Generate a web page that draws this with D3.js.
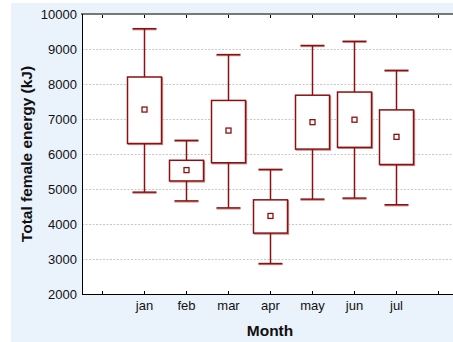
<!DOCTYPE html>
<html>
<head>
<meta charset="utf-8">
<script src="https://cdn.jsdelivr.net/npm/d3@7"></script>
<style>
  html, body { margin: 0; padding: 0; background: #fff; }
  svg { display: block; }
  text { font-family: "Liberation Sans", Arial, sans-serif; }
</style>
</head>
<body>
<svg id="chart" width="453" height="342"></svg>
<script>
const months = ["jan", "feb", "mar", "apr", "may", "jun", "jul"];
const whiskerHigh = [9580, 6390, 8840, 5560, 9100, 9220, 8390];
const q3 = [8200, 5820, 7530, 4690, 7680, 7770, 7260];
const means = [7270, 5540, 6670, 4230, 6910, 6980, 6490];
const q1 = [6300, 5230, 5750, 3740, 6140, 6190, 5700];
const whiskerLow = [4910, 4660, 4460, 2870, 4710, 4740, 4550];
const yTicks = [2000, 3000, 4000, 5000, 6000, 7000, 8000, 9000, 10000];
const xTickPositions = [0, 1, 2, 3, 4, 5, 6, 7, 8];

(function () {
const svg = d3.select("#chart");
const W = 453, H = 342;
const pL = 82, pR = 458, pT = 14, pB = 294;
const red = "#8b1010", shadow = "#c98a8a";

svg.append("rect").attr("x", 11).attr("y", 3).attr("width", W - 11).attr("height", H - 3).attr("fill", "#eaf2fc");
svg.append("rect").attr("x", pL).attr("y", pT).attr("width", pR - pL).attr("height", pB - pT).attr("fill", "#fff");

const x = d3.scaleLinear().domain([-0.476, 8.476]).range([pL, pR]);
const y = d3.scaleLinear().domain([2000, 10000]).range([pB, pT]);

// grid
svg.append("g").selectAll("line").data(yTicks.filter(d => d > 2000 && d < 10000)).join("line")
  .attr("x1", pL).attr("x2", pR)
  .attr("y1", d => Math.round(y(d)) + 0.5).attr("y2", d => Math.round(y(d)) + 0.5)
  .attr("stroke", "#c8c8c8").attr("stroke-dasharray", "2,1.5").attr("stroke-width", 1);

// y axis labels
const yAxis = d3.axisLeft(y).tickValues(yTicks).tickSize(0).tickPadding(5).tickFormat(d3.format("d"));
const yg = svg.append("g").attr("transform", `translate(${pL},0)`).call(yAxis);
yg.select(".domain").remove();
yg.selectAll("text").attr("font-size", 13).attr("fill", "#111").attr("font-family", "Liberation Sans, Arial, sans-serif");

// x axis bottom
const xAxis = d3.axisBottom(x).tickValues(xTickPositions).tickSize(0).tickPadding(0)
  .tickFormat(d => (d >= 1 && d <= months.length) ? months[d - 1] : "");
const xg = svg.append("g").attr("transform", `translate(0,${pB})`).call(xAxis);
xg.select(".domain").remove();
xg.selectAll("text").attr("font-size", 13).attr("fill", "#111").attr("dy", "1.25em").attr("font-family", "Liberation Sans, Arial, sans-serif");

// ticks inside (bottom, up) and top (down)
svg.append("g").selectAll("line").data(xTickPositions).join("line")
  .attr("x1", d => Math.round(x(d)) + 0.5).attr("x2", d => Math.round(x(d)) + 0.5)
  .attr("y1", pB).attr("y2", pB - 3).attr("stroke", "#000");
svg.append("g").selectAll("line").data(xTickPositions).join("line")
  .attr("x1", d => Math.round(x(d)) + 0.5).attr("x2", d => Math.round(x(d)) + 0.5)
  .attr("y1", pT).attr("y2", pT + 4).attr("stroke", "#000");

// borders
svg.append("line").attr("x1", pL - 1).attr("x2", pR).attr("y1", pT).attr("y2", pT).attr("stroke", "#777").attr("stroke-width", 2);
svg.append("line").attr("x1", pL + 0.5).attr("x2", pL + 0.5).attr("y1", pT).attr("y2", pB).attr("stroke", "#000");
svg.append("line").attr("x1", pL).attr("x2", pR).attr("y1", pB + 0.5).attr("y2", pB + 0.5).attr("stroke", "#000");

// boxes
const boxHalf = 17, capHalf = 12;
const g = svg.append("g");
months.forEach((m, i) => {
  const cx = Math.round(x(i + 1)) + 0.5;
  g.append("rect").attr("x", cx - boxHalf + 1).attr("y", y(q3[i]) + 1).attr("width", boxHalf * 2).attr("height", y(q1[i]) - y(q3[i]))
    .attr("fill", "none").attr("stroke", shadow).attr("stroke-width", 1.3);
  g.append("line").attr("x1", cx - capHalf).attr("x2", cx + capHalf).attr("y1", y(whiskerHigh[i]) + 1).attr("y2", y(whiskerHigh[i]) + 1).attr("stroke", shadow).attr("stroke-width", 1.3);
  g.append("line").attr("x1", cx - capHalf).attr("x2", cx + capHalf).attr("y1", y(whiskerLow[i]) + 1).attr("y2", y(whiskerLow[i]) + 1).attr("stroke", shadow).attr("stroke-width", 1.3);
  g.append("line").attr("x1", cx).attr("x2", cx).attr("y1", y(whiskerHigh[i])).attr("y2", y(q3[i])).attr("stroke", red).attr("stroke-width", 1.5);
  g.append("line").attr("x1", cx).attr("x2", cx).attr("y1", y(q1[i])).attr("y2", y(whiskerLow[i])).attr("stroke", red).attr("stroke-width", 1.5);
  g.append("line").attr("x1", cx - capHalf).attr("x2", cx + capHalf).attr("y1", y(whiskerHigh[i])).attr("y2", y(whiskerHigh[i])).attr("stroke", red).attr("stroke-width", 1.5);
  g.append("line").attr("x1", cx - capHalf).attr("x2", cx + capHalf).attr("y1", y(whiskerLow[i])).attr("y2", y(whiskerLow[i])).attr("stroke", red).attr("stroke-width", 1.5);
  g.append("rect").attr("x", cx - boxHalf).attr("y", y(q3[i])).attr("width", boxHalf * 2).attr("height", y(q1[i]) - y(q3[i]))
    .attr("fill", "#fff").attr("stroke", red).attr("stroke-width", 1.5);
  g.append("rect").attr("x", cx - 2.5).attr("y", y(means[i]) - 2.5).attr("width", 5).attr("height", 5)
    .attr("fill", "#fff").attr("stroke", red).attr("stroke-width", 1.3);
});

// axis titles
svg.append("text").attr("x", (pL + pR) / 2).attr("y", 335.5).attr("text-anchor", "middle")
  .attr("font-size", 15.5).attr("font-weight", "bold").attr("fill", "#111").text("Month");
svg.append("text").attr("transform", `translate(31.5,${(pT + pB) / 2}) rotate(-90)`).attr("text-anchor", "middle")
  .attr("font-size", 15.5).attr("font-weight", "bold").attr("fill", "#111").text("Total female energy (kJ)");
})();
</script>
</body>
</html>
